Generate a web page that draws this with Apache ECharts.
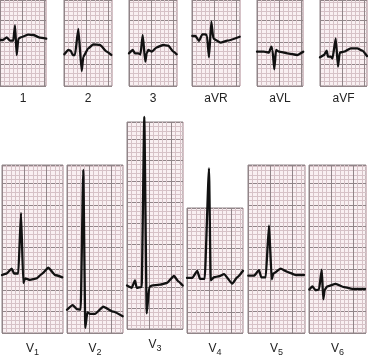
<!DOCTYPE html>
<html>
<head>
<meta charset="utf-8">
<script src="https://cdn.jsdelivr.net/npm/echarts@6/dist/echarts.min.js"></script>
<style>
html,body{margin:0;padding:0;background:#fff;}
#c{width:368px;height:358px;}
</style>
</head>
<body>
<div id="c"></div>
<script>
// Lead names (tick labels under each strip)
const leadNames = ['1', '2', '3', 'aVR', 'aVL', 'aVF', 'V{s|1}', 'V{s|2}', 'V{s|3}', 'V{s|4}', 'V{s|5}', 'V{s|6}'];

// Traces: [time in small squares (mm), amplitude in mm above strip bottom]
const lead1 = [[0,10.45],[0.68,10.45],[1.52,11.07],[2.27,10.3],[3.02,10.3],[3.41,13.8],[3.8,7.05],[4.16,10.68],[4.7,11.07],[6.43,11.66],[7.57,11.59],[9.09,10.98],[10.5,10.75]];
const lead2 = [[0.07,7.2],[0.98,8.18],[1.52,8.02],[1.98,7.05],[2.5,7.05],[3.25,12.95],[4.02,3.41],[4.39,6.66],[5.52,8.57],[6.66,9.48],[8.18,9.32],[9.7,7.8],[10.75,7.05]];
const lead3 = [[0,7.43],[0.84,8.18],[1.36,7.43],[2.11,7.43],[2.61,7.16],[3.11,11.59],[3.7,5.52],[4.02,7.43],[4.39,8.18],[5.16,7.8],[6.3,8.8],[7.8,9.32],[8.93,9.16],[10.07,7.8],[10.84,7.2]];
const leadAVR = [[0.07,11.36],[0.8,11.36],[1.59,10.23],[2.34,11.75],[3.11,11.75],[3.41,11.36],[3.86,6.52],[4.39,14.61],[4.84,10.84],[5.39,10.45],[6.52,9.84],[8.02,10.3],[10.84,11.2]];
const leadAVL = [[0,7.8],[1.59,7.8],[2.73,7.57],[3.25,8.93],[3.52,8.18],[3.93,3.8],[4.32,8.18],[5.0,7.8],[6.89,7.43],[9.16,7.05],[10.5,7.8]];
const leadAVF = [[0,6.52],[0.91,7.05],[1.52,8.02],[1.82,6.66],[2.43,6.66],[2.84,6.25],[3.57,10.84],[4.09,4.39],[4.48,7.57],[5.45,7.8],[6.98,8.57],[8.48,8.57],[9.61,8.02],[10.68,6.82]];
const leadV1 = [[0,13.57],[1.07,13.93],[2.2,15.07],[2.73,13.93],[3.7,13.93],[4.32,28.11],[4.84,11.66],[5.23,12.8],[6.36,12.43],[7.89,12.8],[9.09,13.86],[10.52,15.3],[12.05,13.57],[13.7,13.02]];
const leadV2 = [[0,5.45],[1.3,6.52],[2.2,5.61],[3.11,5.45],[3.7,38.18],[4.16,1.2],[4.61,4.84],[5.23,4.48],[6.36,4.48],[8.25,6.14],[10.52,5.0],[12.66,3.93]];
const leadV3 = [[0,10.3],[1.07,9.77],[1.82,11.52],[2.2,9.77],[3.34,10.0],[3.93,50.3],[4.48,3.7],[5.07,10.0],[5.61,10.3],[7.5,10.52],[9.02,10.91],[10.68,12.57],[11.66,11.3],[12.66,10.3]];
const leadV4 = [[0,13.02],[1.2,13.02],[2.34,14.7],[2.95,12.8],[4.02,12.8],[5.0,38.93],[5.39,12.43],[6.14,13.18],[7.27,13.41],[8.41,13.93],[10.3,11.66],[11.43,13.18],[12.73,14.7]];
const leadV5 = [[0.07,13.41],[1.36,13.41],[2.5,14.7],[3.02,13.02],[4.02,13.02],[4.77,25.16],[5.39,12.57],[5.75,13.93],[7.43,15.07],[8.93,14.32],[10.84,13.57],[12.73,13.57]];
const leadV6 = [[0.07,10.16],[0.75,10.91],[1.52,10.0],[2.27,10.16],[2.89,14.84],[3.25,7.89],[3.57,10.16],[4.16,10.91],[6.07,11.52],[7.95,10.75],[10.23,10.3],[12.73,10.3]];

const traces = [lead1, lead2, lead3, leadAVR, leadAVL, leadAVF, leadV1, leadV2, leadV3, leadV4, leadV5, leadV6];

// Layout (pixels): strip position and size
const PX_PER_MM = 4.4;
const layout = [
  {l:0,   t:0,   w:46, h:86,  gap:7},
  {l:64,  t:0,   w:48, h:86,  gap:7},
  {l:129, t:0,   w:48, h:86,  gap:7},
  {l:192, t:0,   w:48, h:86,  gap:7},
  {l:257, t:0,   w:46, h:86,  gap:7},
  {l:320, t:0,   w:47, h:86,  gap:7},
  {l:2,   t:165, w:61, h:173, gap:7},
  {l:67,  t:165, w:56, h:173, gap:7},
  {l:127, t:122, w:56, h:216, gap:7},
  {l:187, t:208, w:56, h:130, gap:7},
  {l:248, t:165, w:57, h:173, gap:7},
  {l:309, t:165, w:57, h:173, gap:7}
];

const MAJOR = '#918588';
const MINOR = '#d6c2c7';
const gridColors = [MAJOR, MINOR, MINOR, MINOR, MINOR];

const grids = [], xAxes = [], yAxes = [], series = [];
layout.forEach((p, i) => {
  grids.push({
    left: p.l, top: p.t, width: p.w, height: p.h,
    show: true, backgroundColor: '#f9f0f2', borderColor: MAJOR, borderWidth: 1
  });
  const common = {
    gridIndex: i, type: 'value', interval: 1, min: 0,
    axisLine: {show: false}, axisTick: {show: false}, axisLabel: {show: false},
    splitLine: {show: true, lineStyle: {color: gridColors, width: 1}}
  };
  xAxes.push(Object.assign({}, common, {
    max: p.w / PX_PER_MM,
    name: leadNames[i], nameLocation: 'middle', nameGap: p.gap,
    nameTextStyle: {
      fontFamily: 'Liberation Sans, Arial, sans-serif', fontSize: 12, color: '#222',
      rich: {s: {fontSize: 9, fontFamily: 'Liberation Sans, Arial, sans-serif', color: '#222', padding: [8, 0, 0, 0]}}
    }
  }));
  yAxes.push(Object.assign({}, common, {max: p.h / PX_PER_MM}));
  series.push({
    type: 'line', xAxisIndex: i, yAxisIndex: i, data: traces[i],
    showSymbol: false, symbol: 'none', clip: false, smooth: 0.15, smoothMonotone: 'x',
    lineStyle: {color: '#111', width: 2.3, join: 'round', cap: 'round'},
    silent: true, animation: false
  });
});

const chart = echarts.init(document.getElementById('c'), null, {renderer: 'canvas'});
chart.setOption({
  animation: false,
  grid: grids, xAxis: xAxes, yAxis: yAxes, series: series
});
</script>
</body>
</html>
